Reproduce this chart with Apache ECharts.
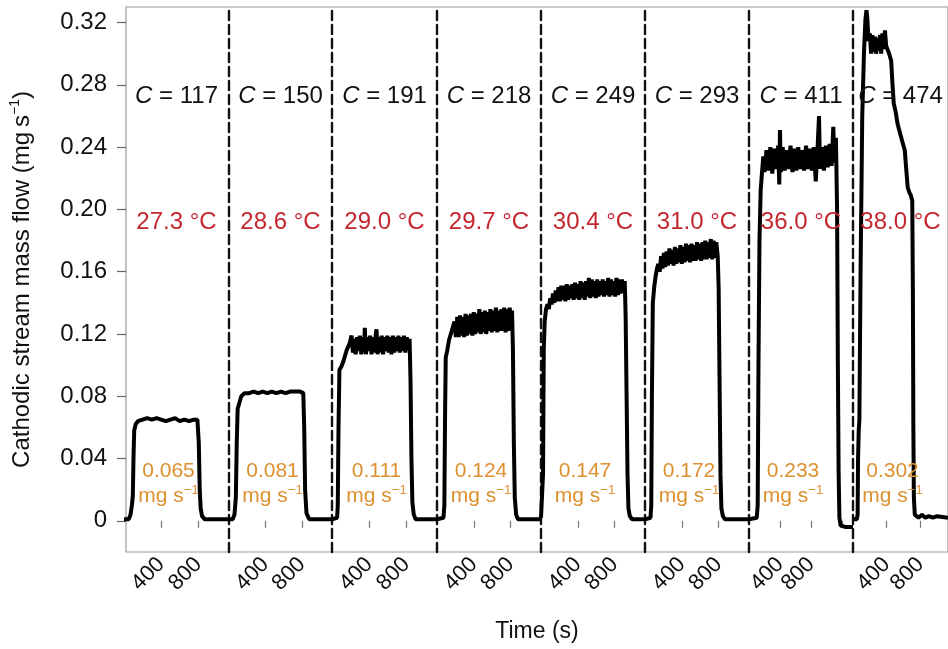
<!DOCTYPE html>
<html>
<head>
<meta charset="utf-8">
<script src="https://cdn.jsdelivr.net/npm/echarts@6/dist/echarts.min.js"></script>
<style>
html,body{margin:0;padding:0;background:#fff;}
#chart{width:948px;height:649px;}
</style>
</head>
<body>
<div id="chart"></div>
<script>
// ---- data ----
const cValues = [117, 150, 191, 218, 249, 293, 411, 474];
const temps = ['27.3', '28.6', '29.0', '29.7', '30.4', '31.0', '36.0', '38.0'];
const flows = ['0.065', '0.081', '0.111', '0.124', '0.147', '0.172', '0.233', '0.302'];
const yTicks = [0, 0.04, 0.08, 0.12, 0.16, 0.20, 0.24, 0.28, 0.32];
const xLabelTicks = [400, 800];
const panelMax = [1130, 1130, 1130, 1130, 1130, 1130, 1340, 1130];
const panelTicks = [[400,800],[400,800],[400,800],[400,800],[400,800],[400,800],[400,800,1200],[400,800]];

const p1 = [[0,0.001],[50,0.001],[70,0.004],[85,0.010],[95,0.016],[102,0.040],[110,0.058],[125,0.062],[150,0.064],[200,0.065],[250,0.066],[300,0.065],[350,0.066],[400,0.065],[450,0.064],[500,0.065],[550,0.066],[600,0.064],[650,0.065],[700,0.064],[750,0.065],[790,0.065],[805,0.050],[815,0.020],[825,0.008],[840,0.003],[870,0.001],[1130,0.001]];
const p2 = [[0,0.001],[40,0.001],[60,0.004],[75,0.015],[85,0.050],[95,0.072],[115,0.076],[135,0.080],[170,0.082],[220,0.082],[270,0.083],[320,0.082],[370,0.083],[420,0.082],[470,0.083],[520,0.082],[570,0.083],[620,0.082],[670,0.083],[720,0.083],[780,0.083],[815,0.082],[825,0.060],[835,0.020],[850,0.005],[880,0.001],[1130,0.001]];
const p3 = [[0,0.001],[55,0.002],[62,0.010],[70,0.060],[80,0.097],[100,0.099],[120,0.102],[140,0.106],[160,0.110],[190,0.114],[210,0.119],[225,0.108],[240,0.117],[255,0.107],[270,0.118],[285,0.109],[300,0.119],[315,0.107],[330,0.118],[345,0.108],[353,0.124],[365,0.107],[380,0.118],[395,0.109],[410,0.119],[425,0.107],[440,0.118],[455,0.108],[470,0.119],[479,0.123],[490,0.107],[505,0.118],[520,0.108],[535,0.119],[550,0.107],[565,0.118],[580,0.109],[595,0.119],[610,0.108],[625,0.118],[640,0.107],[655,0.119],[670,0.108],[685,0.118],[700,0.109],[715,0.119],[730,0.108],[745,0.118],[760,0.109],[775,0.119],[790,0.108],[805,0.118],[820,0.110],[835,0.117],[845,0.090],[855,0.040],[865,0.012],[880,0.004],[900,0.001],[1130,0.001]];
const p4 = [[0,0.001],[70,0.002],[80,0.010],[88,0.070],[95,0.105],[110,0.109],[130,0.116],[150,0.120],[170,0.124],[190,0.128],[205,0.118],[220,0.131],[235,0.118],[250,0.132],[265,0.119],[280,0.131],[295,0.118],[310,0.133],[325,0.119],[340,0.132],[355,0.120],[370,0.133],[385,0.119],[400,0.134],[415,0.120],[430,0.133],[445,0.121],[460,0.136],[475,0.120],[490,0.134],[505,0.121],[520,0.135],[535,0.120],[550,0.134],[565,0.122],[580,0.136],[595,0.121],[610,0.135],[625,0.122],[640,0.137],[655,0.121],[670,0.135],[685,0.122],[700,0.136],[715,0.122],[730,0.137],[745,0.121],[760,0.136],[775,0.122],[790,0.137],[805,0.123],[815,0.135],[825,0.110],[835,0.050],[845,0.015],[860,0.004],[880,0.001],[1130,0.001]];
const p5 = [[0,0.002],[15,0.003],[22,0.030],[30,0.110],[40,0.128],[55,0.136],[70,0.139],[85,0.136],[100,0.143],[116,0.139],[130,0.146],[145,0.140],[160,0.148],[175,0.141],[190,0.150],[205,0.141],[220,0.151],[235,0.142],[250,0.151],[265,0.141],[280,0.152],[295,0.142],[310,0.151],[325,0.143],[340,0.152],[355,0.142],[370,0.153],[385,0.143],[400,0.152],[415,0.142],[430,0.154],[445,0.143],[460,0.153],[475,0.142],[490,0.154],[505,0.144],[520,0.156],[535,0.143],[550,0.155],[565,0.144],[580,0.154],[595,0.143],[610,0.155],[625,0.144],[640,0.154],[655,0.145],[670,0.155],[685,0.144],[700,0.154],[715,0.145],[730,0.156],[745,0.144],[760,0.155],[775,0.145],[790,0.154],[805,0.144],[820,0.156],[835,0.145],[850,0.155],[865,0.146],[880,0.155],[895,0.147],[910,0.154],[920,0.130],[930,0.080],[940,0.030],[950,0.008],[965,0.003],[990,0.001],[1130,0.001]];
const p6 = [[0,0.001],[60,0.002],[68,0.010],[75,0.080],[85,0.140],[100,0.150],[115,0.157],[130,0.162],[144,0.165],[160,0.160],[175,0.170],[190,0.162],[205,0.172],[220,0.163],[235,0.173],[250,0.164],[265,0.175],[280,0.165],[295,0.174],[310,0.164],[325,0.176],[340,0.165],[355,0.175],[370,0.166],[385,0.177],[400,0.165],[415,0.176],[430,0.166],[445,0.178],[460,0.167],[475,0.177],[490,0.166],[505,0.178],[520,0.167],[535,0.177],[550,0.167],[565,0.179],[580,0.168],[595,0.178],[610,0.167],[625,0.179],[640,0.168],[655,0.180],[670,0.168],[685,0.179],[700,0.169],[715,0.181],[730,0.168],[745,0.180],[760,0.169],[775,0.179],[790,0.170],[800,0.150],[810,0.090],[820,0.030],[830,0.008],[846,0.003],[870,0.001],[1130,0.001]];
const p7 = [[0,0.001],[100,0.002],[112,0.010],[122,0.100],[135,0.180],[150,0.212],[165,0.222],[184,0.234],[200,0.224],[225,0.238],[250,0.225],[275,0.240],[300,0.223],[325,0.239],[350,0.226],[375,0.241],[390,0.216],[399,0.251],[410,0.224],[435,0.240],[460,0.225],[485,0.238],[510,0.226],[535,0.241],[560,0.224],[585,0.239],[610,0.225],[635,0.240],[660,0.226],[685,0.238],[710,0.225],[735,0.241],[760,0.226],[785,0.239],[810,0.225],[835,0.240],[860,0.218],[885,0.241],[902,0.260],[915,0.226],[940,0.240],[965,0.225],[990,0.241],[1015,0.227],[1040,0.242],[1065,0.228],[1086,0.253],[1100,0.230],[1120,0.246],[1135,0.200],[1145,0.100],[1155,0.030],[1165,0.002],[1180,-0.003],[1250,-0.004],[1340,-0.004]];
const p8 = [[0,0.001],[45,0.001],[55,0.004],[60,0.040],[68,0.058],[76,0.065],[90,0.160],[110,0.260],[130,0.300],[148,0.322],[160,0.328],[170,0.323],[185,0.308],[200,0.313],[215,0.300],[230,0.312],[245,0.301],[260,0.311],[275,0.300],[290,0.310],[305,0.302],[320,0.312],[335,0.300],[350,0.313],[365,0.303],[380,0.315],[395,0.305],[418,0.305],[430,0.300],[454,0.2955],[470,0.280],[485,0.268],[508,0.2625],[530,0.255],[562,0.2485],[590,0.243],[616,0.238],[630,0.228],[651,0.214],[670,0.211],[688,0.209],[705,0.2055],[712,0.150],[718,0.060],[724,0.015],[735,0.004],[780,0.002],[820,0.004],[860,0.002],[900,0.003],[950,0.002],[1000,0.003],[1130,0.002]];
const panels = [p1, p2, p3, p4, p5, p6, p7, p8];

// ---- layout / style ----
const FONT = '"Liberation Sans", Arial, Helvetica, sans-serif';
const RED = '#c4262f';
const ORANGE = '#dc902f';
const TXT = '#111';
const panelLeft = [124, 229, 332, 437, 541, 645, 749, 853];
const panelWidth = [105, 103, 105, 104, 104, 104, 104, 104];
const GTOP = 7, GBOTTOM = 97;
const YMIN = -0.02, YMAX = 0.33;

const grid = [{left: 124, top: GTOP, width: 834, bottom: GBOTTOM, show: true, borderColor: '#9a9a9a', borderWidth: 1.2, backgroundColor: 'transparent'}];
const xAxis = [{
  gridIndex: 0, type: 'value', min: 0, max: 1,
  axisLine: {show: false}, axisTick: {show: false}, axisLabel: {show: false}, splitLine: {show: false},
  name: 'Time (s)', nameLocation: 'middle', nameGap: 68,
  nameTextStyle: {fontFamily: FONT, fontSize: 23, color: TXT}
}];
const yAxis = [{
  gridIndex: 0, type: 'value', min: YMIN, max: YMAX,
  axisLine: {show: false},
  axisTick: {show: true, inside: false, length: 9, customValues: yTicks, lineStyle: {color: '#666', width: 1.2}},
  axisLabel: {customValues: yTicks, fontFamily: FONT, fontSize: 24, color: TXT, margin: 19,
    formatter: v => (Math.abs(v) < 1e-9 ? '0' : v.toFixed(2))},
  splitLine: {show: false},
  name: '{a|Cathodic stream mass flow (mg\u2009s}{s|\u22121}{a|)}', nameLocation: 'middle', nameGap: 90, nameRotate: 90,
  nameTextStyle: {rich: {
    a: {fontFamily: FONT, fontSize: 24, color: TXT, lineHeight: 28},
    s: {fontFamily: FONT, fontSize: 14, color: TXT, verticalAlign: 'top', lineHeight: 28}
  }}
}];
const series = [];

panels.forEach((pdata, i) => {
  const gi = i + 1;
  grid.push({left: panelLeft[i], top: GTOP, width: panelWidth[i], bottom: GBOTTOM});
  xAxis.push({
    gridIndex: gi, type: 'value', min: 0, max: panelMax[i], position: 'bottom',
    axisLine: {show: false},
    axisTick: {show: true, inside: false, length: 7, customValues: panelTicks[i], lineStyle: {color: '#777', width: 1.2}},
    axisLabel: {customValues: xLabelTicks, rotate: 45, margin: 9, fontFamily: FONT, fontSize: 22, color: TXT},
    splitLine: {show: false}
  });
  yAxis.push({
    gridIndex: gi, type: 'value', min: YMIN, max: YMAX,
    axisLine: {show: i > 0, onZero: false, lineStyle: {color: '#111', width: 2.4, type: [9, 5]}},
    axisTick: {show: false}, axisLabel: {show: false}, splitLine: {show: false}
  });
  series.push({
    type: 'line', xAxisIndex: gi, yAxisIndex: gi, data: pdata,
    showSymbol: false, symbol: 'none', lineStyle: {color: '#000', width: 4}, z: 3
  });
  const mid = panelMax[i] / 2;
  series.push({
    type: 'scatter', xAxisIndex: gi, yAxisIndex: gi, symbolSize: 1, silent: true, z: 5,
    itemStyle: {color: 'rgba(0,0,0,0)', opacity: 1},
    data: [
      {value: [mid, 0.2725], label: {show: true, position: 'inside', formatter: '{i|C}{n| = ' + cValues[i] + '}',
        rich: {i: {fontFamily: FONT, fontSize: 24, fontStyle: 'italic', color: TXT}, n: {fontFamily: FONT, fontSize: 24, color: TXT}}}},
      {value: [mid, 0.1915], label: {show: true, position: 'inside', formatter: temps[i] + ' \u00B0C',
        fontFamily: FONT, fontSize: 24, color: RED}},
      {value: [mid, 0.0240], label: {show: true, position: 'inside', offset: [-8, 0],
        formatter: '{n|' + flows[i] + '}\n{n|mg s}{s|\u22121}',
        rich: {n: {fontFamily: FONT, fontSize: 21, color: ORANGE, lineHeight: 25},
               s: {fontFamily: FONT, fontSize: 13, color: ORANGE, verticalAlign: 'top', lineHeight: 25}}}}
    ]
  });
});

const chart = echarts.init(document.getElementById('chart'), null, {renderer: 'canvas'});
chart.setOption({animation: false, backgroundColor: '#fff', grid, xAxis, yAxis, series});
</script>
</body>
</html>
